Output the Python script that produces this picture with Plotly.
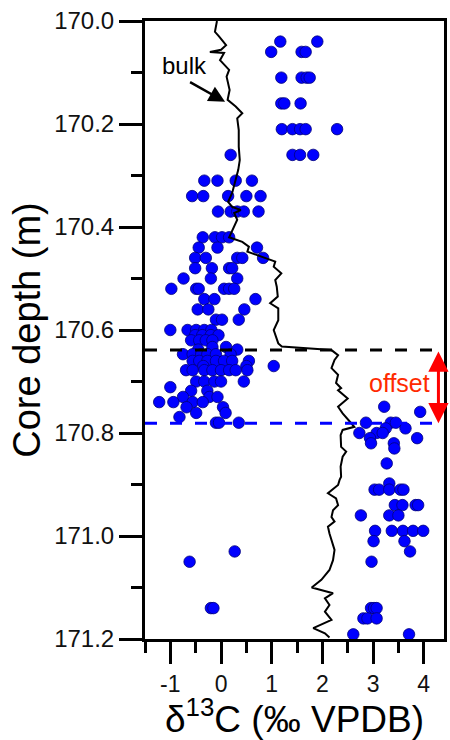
import plotly.graph_objects as go

# ---- bulk carbonate curve (δ13C vs depth) ----
bulk_depth = [170.000, 170.021, 170.030, 170.047, 170.056, 170.060, 170.062, 170.076, 170.095, 170.108,
              170.134, 170.153, 170.166, 170.179, 170.189, 170.212, 170.244, 170.270, 170.289, 170.309,
              170.334, 170.351, 170.361, 170.367, 170.373, 170.386, 170.406, 170.420, 170.429, 170.438,
              170.448, 170.458, 170.467, 170.477, 170.490, 170.503, 170.516, 170.535, 170.548, 170.558,
              170.581, 170.600, 170.626, 170.632, 170.636, 170.639, 170.649, 170.658, 170.674, 170.687,
              170.703, 170.713, 170.717, 170.733, 170.749, 170.762, 170.781, 170.788, 170.794, 170.804,
              170.827, 170.836, 170.846, 170.865, 170.885, 170.891, 170.901, 170.917, 170.927, 170.940,
              170.950, 170.963, 170.972, 170.982, 170.995, 171.008, 171.027, 171.047, 171.066, 171.085,
              171.100, 171.111, 171.121, 171.134, 171.147, 171.163, 171.179, 171.189, 171.197]
bulk_d13c = [-0.08, -0.12, -0.04, 0.10, 0.00, -0.22, 0.06, -0.02, 0.16, 0.11,
             0.17, 0.13, 0.29, 0.42, 0.32, 0.35, 0.35, 0.37, 0.34, 0.29,
             0.22, 0.14, 0.22, 0.39, 0.26, 0.32, 0.22, 0.16, 0.42, 0.55,
             0.52, 0.81, 1.07, 1.04, 1.19, 1.07, 1.10, 1.12, 0.97, 1.13,
             1.13, 1.04, 1.13, 1.20, 1.79, 2.18, 2.31, 2.24, 2.18, 2.31,
             2.27, 2.37, 2.31, 2.50, 2.31, 2.40, 2.57, 2.63, 2.40, 2.36,
             2.37, 2.47, 2.40, 2.36, 2.37, 2.34, 2.31, 2.11, 2.27, 2.31,
             2.21, 2.18, 2.24, 2.11, 2.14, 2.18, 2.24, 2.21, 2.14, 1.98,
             1.79, 2.21, 2.05, 2.14, 2.05, 2.18, 1.82, 2.05, 2.14]

# ---- individual component samples, grouped by depth row ----
row_depths = [170.040, 170.060, 170.110, 170.160, 170.210, 170.260, 170.310, 170.340, 170.370, 170.420,
              170.440, 170.460, 170.480, 170.500, 170.520, 170.540, 170.560, 170.580, 170.600, 170.610,
              170.620, 170.633, 170.638, 170.647, 170.660, 170.670, 170.678, 170.700, 170.711, 170.718,
              170.730, 170.740, 170.750, 170.761, 170.769, 170.780,
              170.749, 170.759, 170.780, 170.791, 170.800, 170.810, 170.820, 170.830, 170.859, 170.898,
              170.910, 170.940, 170.960, 170.990, 171.010, 171.030, 171.050, 171.140, 171.160, 171.191]
row_values = [[1.17, 1.90], [0.99, 1.59, 1.67], [1.19, 1.59, 1.69, 1.75], [1.19, 1.25, 1.57],
              [1.20, 1.41, 1.56, 1.67, 2.29], [0.19, 1.41, 1.56, 1.82],
              [-0.33, -0.07, 0.29, 0.61], [-0.57, -0.35, 0.14, 0.50, 0.78], [-0.06, 0.19, 0.32, 0.45, 0.74],
              [-0.36, -0.12, 0.02, 0.16], [-0.44, -0.07, 0.71], [-0.51, -0.30, 0.32, 0.42, 0.83],
              [-0.51, -0.18, 0.16, 0.22], [-0.74, -0.20, 0.32], [-0.98, -0.49, -0.44, 0.06, 0.16, 0.26],
              [-0.33, -0.13, 0.68], [-0.46, -0.25, 0.46], [-0.10, 0.02, 0.35],
              [-1.00, -0.66, -0.49, -0.33, -0.19], [-0.51, -0.37, -0.20, -0.05], [-0.59, -0.43, -0.30, -0.17],
              [-0.17, 0.10], [-0.45, 0.32], [-0.75, -0.56, -0.39, -0.27, -0.10, 0.19],
              [-0.56, -0.43, -0.27, -0.10, 0.06, 0.22, 0.55], [-0.35, 0.50, 1.04],
              [-0.69, -0.56, -0.33, -0.17, 0.00, 0.16, 0.29, 0.52], [-0.49, -0.33, -0.13, 0.00, 0.45],
              [-1.00], [-0.59, -0.27], [-0.75, -0.23, -0.07], [-1.22, -0.94, -0.56, -0.36],
              [-0.68, 0.04], [-0.49, 0.09], [-0.82], [-0.10, -0.04, 0.35],
              [3.22], [3.93], [2.86, 3.35, 3.45], [3.25, 3.64], [2.73, 3.07, 3.19], [2.94, 3.87],
              [2.96, 3.41], [3.42], [3.27], [3.32], [3.03, 3.12, 3.32, 3.54, 3.60],
              [3.43, 3.58, 3.84, 3.89], [2.76, 3.32, 3.50], [3.04, 3.37, 3.59, 3.79, 3.99],
              [3.01, 3.62], [0.27, 3.73], [-0.62, 2.97], [-0.20, -0.15, 2.96, 3.02, 3.07],
              [2.81, 2.89, 3.07], [2.61, 3.71]]

# ---- sampled horizons (red triangles) ----
triangle_depths = [170.008, 170.159, 170.317, 170.419, 170.509, 170.614, 170.635, 170.643,
                   170.687, 170.781, 170.800, 170.911]

# ---- horizons bounding the offset ----
upper_horizon = 170.639
lower_horizon = 170.781

x_range = [-1.5, 4.4]
y_range = [171.2, 170.0]
y_ticks = [170.0, 170.2, 170.4, 170.6, 170.8, 171.0, 171.2]
x_ticks = [-1, 0, 1, 2, 3, 4]

sample_x, sample_y = [], []
for d, vals in zip(row_depths, row_values):
    for v in vals:
        sample_x.append(v)
        sample_y.append(d)

FONT = "Liberation Sans, Arial, sans-serif"

fig = go.Figure()

fig.add_trace(go.Scatter(
    x=sample_x, y=sample_y, mode="markers",
    marker=dict(size=11.5, color="#0000ff", line=dict(color="#00007a", width=0.8)),
    showlegend=False, hoverinfo="skip"))

fig.add_trace(go.Scatter(
    x=bulk_d13c, y=bulk_depth, mode="lines",
    line=dict(color="black", width=2),
    showlegend=False, hoverinfo="skip"))

fig.add_trace(go.Scatter(
    x=[x_range[0] - 0.14] * len(triangle_depths), y=triangle_depths, mode="markers",
    marker=dict(symbol="triangle-right-open", size=11, color="#ff0000", line=dict(color="#ff0000", width=2.2)),
    cliponaxis=False, showlegend=False, hoverinfo="skip"))

fig.add_shape(type="line", xref="paper", x0=0, x1=1, yref="y", y0=upper_horizon, y1=upper_horizon,
              line=dict(color="black", width=3, dash="12px,13px"))
fig.add_shape(type="line", xref="paper", x0=0, x1=1, yref="y", y0=lower_horizon, y1=lower_horizon,
              line=dict(color="#0000ff", width=3, dash="12px,13px"))

# bulk label + arrow
fig.add_annotation(x=-0.72, y=170.087, text="bulk", showarrow=False,
                   font=dict(family=FONT, size=24, color="black"))
fig.add_annotation(x=0.08, y=170.157, ax=-0.64, ay=170.117, axref="x", ayref="y",
                   text="", showarrow=True, arrowhead=2, arrowsize=1.3, arrowwidth=2.5,
                   arrowcolor="black", standoff=0)

# offset label + double arrow
fig.add_annotation(x=3.52, y=170.703, text="offset", showarrow=False,
                   font=dict(family=FONT, size=25, color="#ff2a00"))
fig.add_annotation(x=4.29, y=lower_horizon, ax=4.29, ay=upper_horizon, axref="x", ayref="y",
                   text="", showarrow=True, arrowside="end+start", arrowhead=2, startarrowhead=2,
                   arrowsize=1.35, startarrowsize=1.35, arrowwidth=3, arrowcolor="#ff0000",
                   standoff=0, startstandoff=0)

fig.update_layout(
    width=450, height=740,
    margin=dict(l=145, r=3, t=21, b=101),
    paper_bgcolor="white", plot_bgcolor="white",
    font=dict(family=FONT, color="black"),
)

fig.update_xaxes(
    range=x_range, tickvals=x_ticks, ticktext=[str(v) for v in x_ticks],
    ticks="outside", ticklen=22, tickwidth=2.5, tickcolor="black",
    minor=dict(dtick=0.5, tick0=-1.5, ticklen=11, tickwidth=2.5, tickcolor="black", ticks="outside", showgrid=False),
    showline=True, linecolor="black", linewidth=3, mirror=True,
    showgrid=False, zeroline=False,
    tickfont=dict(family=FONT, size=23, color="#111"),
    title=dict(text="δ<sup>13</sup>C (‰ VPDB)", font=dict(family=FONT, size=37, color="black"), standoff=4),
)
fig.update_yaxes(
    range=y_range, tickvals=y_ticks, ticktext=[f"{v:.1f}" for v in y_ticks],
    ticks="outside", ticklen=23, tickwidth=2.5, tickcolor="black",
    minor=dict(dtick=0.1, tick0=170.0, ticklen=11, tickwidth=2.5, tickcolor="black", ticks="outside", showgrid=False),
    showline=True, linecolor="black", linewidth=3, mirror=True,
    showgrid=False, zeroline=False,
    tickfont=dict(family=FONT, size=24, color="#111"),
    title=dict(text="Core depth (m)", font=dict(family=FONT, size=38, color="black"), standoff=2),
)

fig.write_html("out.html")
